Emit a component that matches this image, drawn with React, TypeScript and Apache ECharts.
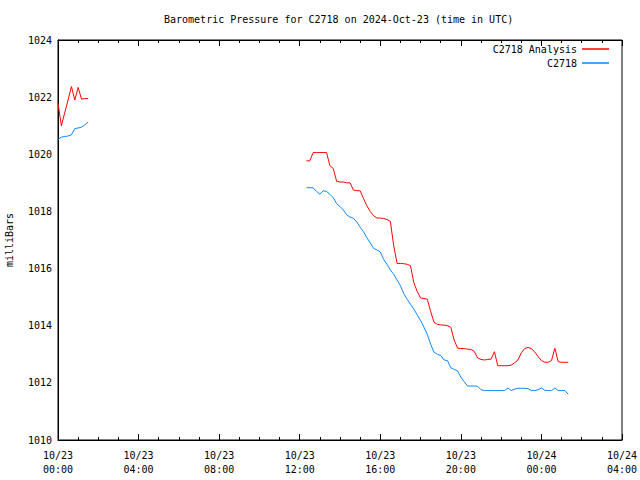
import React, { useEffect, useRef } from "react";
import * as echarts from "echarts";

// Sample times: 10-minute steps, in hours since 2024-10-23 00:00 UTC
const STEP_HOURS = 1 / 6;
const EARLY_START_HOUR = 0;
const LATE_START_HOUR = 74 / 6; // 12:20 UTC

const analysisEarly = [1021.8, 1021.0, 1021.45, 1021.9, 1022.37, 1021.9, 1022.34, 1021.93, 1021.95, 1021.95];
const stationEarly = [1020.52, 1020.6, 1020.62, 1020.64, 1020.68, 1020.9, 1020.92, 1020.95, 1021.03, 1021.13];

const analysisLate = [
  1019.77, 1019.77, 1020.06, 1020.06, 1020.06, 1020.06, 1020.06, 1019.6, 1019.5, 1019.05,
  1019.03, 1019.03, 1019.0, 1019.0, 1018.75, 1018.73, 1018.72, 1018.45, 1018.2, 1018.0,
  1017.85, 1017.77, 1017.77, 1017.75, 1017.72, 1017.65, 1016.8, 1016.18, 1016.18, 1016.17,
  1016.15, 1016.1, 1015.5, 1015.2, 1014.97, 1014.95, 1014.93, 1014.5, 1014.12, 1014.05,
  1014.03, 1014.02, 1014.0, 1013.95, 1013.5, 1013.22, 1013.2, 1013.2, 1013.18, 1013.17,
  1013.1, 1012.87, 1012.82, 1012.8, 1012.82, 1012.83, 1013.09, 1012.6, 1012.6, 1012.6,
  1012.6, 1012.62, 1012.7, 1012.8, 1013.05, 1013.2, 1013.24, 1013.2, 1013.08, 1012.92,
  1012.78, 1012.72, 1012.72, 1012.78, 1013.21, 1012.74, 1012.72, 1012.72, 1012.72,
];

const stationLate = [
  1018.83, 1018.83, 1018.83, 1018.7, 1018.6, 1018.72, 1018.7, 1018.6, 1018.48, 1018.27,
  1018.17, 1018.05, 1017.88, 1017.8, 1017.76, 1017.63, 1017.45, 1017.29, 1017.08, 1016.9,
  1016.71, 1016.65, 1016.58, 1016.32, 1016.15, 1015.95, 1015.8, 1015.6, 1015.4, 1015.12,
  1014.93, 1014.75, 1014.58, 1014.38, 1014.18, 1013.95, 1013.7, 1013.35, 1013.07, 1013.0,
  1012.96, 1012.8, 1012.78, 1012.53, 1012.47, 1012.42, 1012.2, 1012.04, 1011.89, 1011.89,
  1011.89, 1011.88, 1011.76, 1011.73, 1011.73, 1011.73, 1011.73, 1011.73, 1011.73, 1011.73,
  1011.82, 1011.73, 1011.78, 1011.81, 1011.81, 1011.81, 1011.8, 1011.73, 1011.73, 1011.76,
  1011.82, 1011.74, 1011.73, 1011.73, 1011.82, 1011.73, 1011.73, 1011.73, 1011.6,
];

const Y_MIN = 1010;
const Y_MAX = 1024;
const Y_STEP = 2;
const X_MIN_HOUR = 0;
const X_MAX_HOUR = 28;
const X_STEP_HOUR = 4;

const TITLE = "Barometric Pressure for C2718 on 2024-Oct-23 (time in UTC)";
const SERIES_ANALYSIS = "C2718 Analysis";
const SERIES_STATION = "C2718";
const Y_NAME = "milliBars";

const RED = "#ff0000";
const BLUE = "#0a87ff";
const FONT = "DejaVu Sans Mono";

function build(early: number[], late: number[]) {
  const out: any[] = [];
  early.forEach((v, i) => out.push([EARLY_START_HOUR + i * STEP_HOURS, v]));
  out.push([(EARLY_START_HOUR + LATE_START_HOUR) / 2, "-"]);
  late.forEach((v, i) => out.push([LATE_START_HOUR + i * STEP_HOURS, v]));
  return out;
}

function xLabel(h: number) {
  const day = h >= 24 ? "10/24" : "10/23";
  const hh = Math.round(h) % 24;
  return day + "\n" + String(hh).padStart(2, "0") + ":00";
}

export default function App() {
  const ref = useRef<HTMLDivElement>(null);
  useEffect(() => {
    if (!ref.current) return;
    const chart = echarts.init(ref.current, undefined, { renderer: "svg" });
    const textStyle = { fontFamily: FONT, fontSize: 10, color: "#000" };
    const xCommon = {
      type: "value",
      min: X_MIN_HOUR,
      max: X_MAX_HOUR,
      interval: X_STEP_HOUR,
      splitLine: { show: false },
      axisLine: { show: true, lineStyle: { color: "#000", width: 1 } },
      axisTick: { show: true, inside: true, length: 6, lineStyle: { color: "#000" } },
      minorTick: { show: true, splitNumber: 4, length: 3, lineStyle: { color: "#000" } },
    };
    const legendCommon = {
      right: 31,
      align: "right",
      padding: 0,
      itemWidth: 27,
      itemHeight: 1.5,
      icon: "rect",
      itemGap: 8,
      textStyle: { ...textStyle, padding: [0, 0, 0, 0] },
    };
    chart.setOption({
      animation: false,
      backgroundColor: "#fff",
      textStyle: { fontFamily: FONT },
      title: {
        text: TITLE,
        left: 159,
        top: 9,
        textStyle: { ...textStyle, fontWeight: "normal" },
      },
      legend: [
        { ...legendCommon, data: [SERIES_ANALYSIS], top: 44 },
        { ...legendCommon, data: [SERIES_STATION], top: 58 },
      ],
      grid: {
        left: 58,
        right: 18,
        top: 40,
        bottom: 40,
        containLabel: false,
        outerBoundsMode: "none",
        show: true,
        borderColor: "#000",
        borderWidth: 1,
      },
      xAxis: [
        {
          ...xCommon,
          position: "bottom",
          axisLabel: { ...textStyle, margin: 8, lineHeight: 14, formatter: (v: number) => xLabel(v) },
        },
        {
          ...xCommon,
          position: "top",
          axisLabel: { show: false },
        },
      ],
      yAxis: {
        type: "value",
        min: Y_MIN,
        max: Y_MAX,
        interval: Y_STEP,
        name: Y_NAME,
        nameLocation: "middle",
        nameGap: 44,
        nameRotate: 90,
        nameTextStyle: textStyle,
        splitLine: { show: false },
        axisLine: { show: true, lineStyle: { color: "#000" } },
        axisTick: { show: false },
        axisLabel: { ...textStyle, margin: 6, formatter: (v: number) => String(v) },
      },
      series: [
        {
          name: SERIES_ANALYSIS,
          type: "line",
          data: build(analysisEarly, analysisLate),
          symbol: "none",
          connectNulls: false,
          lineStyle: { color: RED, width: 1 },
          itemStyle: { color: RED },
        },
        {
          name: SERIES_STATION,
          type: "line",
          data: build(stationEarly, stationLate),
          symbol: "none",
          connectNulls: false,
          lineStyle: { color: BLUE, width: 1 },
          itemStyle: { color: BLUE },
        },
      ],
    });
    return () => chart.dispose();
  }, []);
  return <div ref={ref} style={{ width: 640, height: 480, position: "absolute", left: 0, top: 0 }} />;
}
